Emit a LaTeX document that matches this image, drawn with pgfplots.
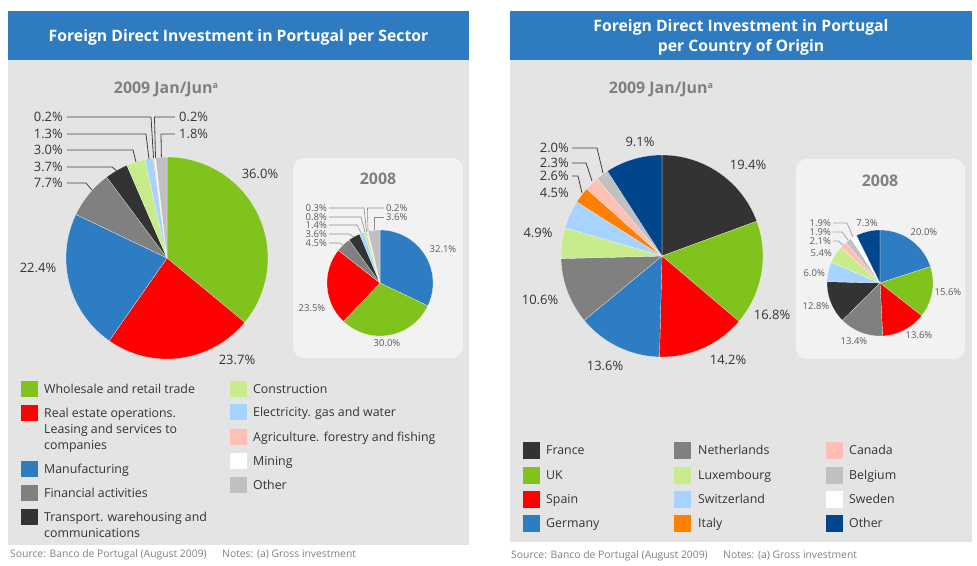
\documentclass[border=0pt]{standalone}
\usepackage{pgfplots}
\pgfplotsset{compat=1.18}
\usepackage{fontspec}
\setmainfont{Open Sans}
\definecolor{titleblue}{HTML}{2E7BC0}
\definecolor{bggray}{HTML}{E4E4E4}
\definecolor{insetgray}{HTML}{F2F2F2}
\definecolor{cGreen}{HTML}{80C31C}
\definecolor{cRed}{HTML}{FF0000}
\definecolor{cBlue}{HTML}{2E7DC2}
\definecolor{cGray}{HTML}{808080}
\definecolor{cDark}{HTML}{333333}
\definecolor{cLGreen}{HTML}{C8EC8C}
\definecolor{cLBlue}{HTML}{A6D3FF}
\definecolor{cPink}{HTML}{FFBFB5}
\definecolor{cWhite}{HTML}{FFFFFF}
\definecolor{cLGray}{HTML}{C0C0C0}
\definecolor{cOrange}{HTML}{FF8000}
\definecolor{cNavy}{HTML}{00468C}
\definecolor{txt}{HTML}{333333}
\definecolor{txtgray}{HTML}{808080}
\definecolor{smalltxt}{HTML}{595959}
\definecolor{leadline}{HTML}{404040}
\definecolor{leadgray}{HTML}{8C8C8C}

% one pie slice: value in percent, colour; angles accumulate clockwise from 12 o'clock
\newcommand\slice[2]{%
  \pgfmathsetmacro\sa{\cum*3.6}%
  \pgfmathsetmacro\sb{(\cum+#1)*3.6}%
  \edef\doslice{\noexpand\addplot[fill=#2,draw=white,line width=0.15pt,domain=\sa:\sb,samples=60,variable=\noexpand\t] ({sin(\noexpand\t)},{cos(\noexpand\t)}) -- (axis cs:0,0) -- cycle;}%
  \doslice
  \pgfmathsetmacro\nc{\cum+#1}\xdef\cum{\nc}%
}
\pgfplotsset{pie/.style={anchor=center,scale only axis,xmin=-1,xmax=1,ymin=-1,ymax=1,hide axis,clip=false}}

\begin{document}
\begin{tikzpicture}
\begin{scope}[x=1bp,y=-1bp]
\useasboundingbox (0,0) rectangle (977,566);
% panels
\fill[titleblue] (8,11) rectangle (469,60);
\fill[bggray] (8,60) rectangle (469,545);
\fill[titleblue] (510,11) rectangle (972,60);
\fill[bggray] (510,60) rectangle (972,542);
\fill[insetgray,rounded corners=11bp] (293,158) rectangle (463,358);
\fill[insetgray,rounded corners=11bp] (796,159) rectangle (965,359);
\end{scope}

% ---------------- pies ----------------
\begin{axis}[pie,at={(167bp,-258bp)},width=202bp,height=202bp]
\gdef\cum{0}
\slice{36.0}{cGreen}
\slice{23.7}{cRed}
\slice{22.4}{cBlue}
\slice{7.7}{cGray}
\slice{3.7}{cDark}
\slice{3.0}{cLGreen}
\slice{1.3}{cLBlue}
\slice{0.2}{cPink}
\slice{0.2}{cWhite}
\slice{1.8}{cLGray}
\end{axis}

\begin{axis}[pie,at={(380bp,-283bp)},width=106bp,height=106bp]
\gdef\cum{0}
\slice{32.1}{cBlue}
\slice{30.0}{cGreen}
\slice{23.5}{cRed}
\slice{4.5}{cGray}
\slice{3.6}{cDark}
\slice{1.4}{cLBlue}
\slice{0.8}{cLGreen}
\slice{0.3}{cPink}
\slice{0.2}{cWhite}
\slice{3.6}{cLGray}
\end{axis}

\begin{axis}[pie,at={(662bp,-256bp)},width=202bp,height=202bp]
\gdef\cum{0}
\slice{19.4}{cDark}
\slice{16.8}{cGreen}
\slice{14.2}{cRed}
\slice{13.6}{cBlue}
\slice{10.6}{cGray}
\slice{4.9}{cLGreen}
\slice{4.5}{cLBlue}
\slice{2.6}{cOrange}
\slice{2.3}{cPink}
\slice{2.0}{cLGray}
\slice{9.1}{cNavy}
\end{axis}

\begin{axis}[pie,at={(880bp,-283bp)},width=106bp,height=106bp]
\gdef\cum{0}
\slice{20.0}{cBlue}
\slice{15.6}{cGreen}
\slice{13.6}{cRed}
\slice{13.4}{cGray}
\slice{12.8}{cDark}
\slice{6.0}{cLBlue}
\slice{5.4}{cLGreen}
\slice{2.1}{cPink}
\slice{1.9}{cLGray}
\slice{1.9}{cWhite}
\slice{7.3}{cNavy}
\end{axis}

\begin{scope}[x=1bp,y=-1bp,
  ttl/.style={font=\fontsize{15.8}{18}\bfseries\selectfont,text=white,inner sep=0,anchor=base},
  sub/.style={font=\fontsize{16}{19}\bfseries\selectfont,text=txtgray,inner sep=0,anchor=base},
  lab/.style={font=\fontsize{13}{15}\selectfont,text=txt,inner sep=0},
  slab/.style={font=\fontsize{9.5}{11}\selectfont,text=smalltxt,inner sep=0},
  leg/.style={font=\fontsize{12.4}{14}\selectfont,text=txt,inner sep=0,anchor=base west},
  src/.style={font=\fontsize{10.4}{12}\selectfont,text=txtgray,inner sep=0,anchor=base west}]
% titles
\node[ttl] at (238.5,41.8) {Foreign Direct Investment in Portugal per Sector};
\node[ttl] at (741,31.5) {Foreign Direct Investment in Portugal};
\node[ttl] at (741,52) {per Country of Origin};
\node[sub] at (166,94) {2009 Jan/Jun{\fontsize{9}{10}\selectfont\raisebox{5bp}{a}}};
\node[sub] at (661,94) {2009 Jan/Jun{\fontsize{9}{10}\selectfont\raisebox{5bp}{a}}};
\node[sub] at (378,185) {2008};
\node[sub] at (880,187) {2008};

% ---- left 2009 labels
\node[lab] at (260,174) {36.0\%};
\node[lab] at (237,360) {23.7\%};
\node[lab] at (38,268) {22.4\%};
\node[lab,anchor=east] at (63,117) {0.2\%};
\node[lab,anchor=east] at (63,134) {1.3\%};
\node[lab,anchor=east] at (63,150) {3.0\%};
\node[lab,anchor=east] at (63,167) {3.7\%};
\node[lab,anchor=east] at (63,183) {7.7\%};
\node[lab,anchor=west] at (179,117) {0.2\%};
\node[lab,anchor=west] at (179,134) {1.8\%};
\begin{scope}[draw=leadline,line width=0.8bp]
\draw (67,183)--(86,183)--(92,190);
\draw (67,167)--(112,167)--(117,171);
\draw (67,150)--(133,150)--(136,162);
\draw (67,134)--(146,134)--(149,159);
\draw (67,117)--(151,117)--(153.5,158);
\draw (175,117)--(154.5,117)--(155.5,158);
\draw (175,134)--(161,134)--(161.4,157);
\end{scope}

% ---- left 2008 labels
\node[slab] at (443,249) {32.1\%};
\node[slab] at (387,343) {30.0\%};
\node[slab] at (312,308) {23.5\%};
\node[slab,anchor=east] at (327,208) {0.3\%};
\node[slab,anchor=east] at (327,217) {0.8\%};
\node[slab,anchor=east] at (327,225) {1.4\%};
\node[slab,anchor=east] at (327,234) {3.6\%};
\node[slab,anchor=east] at (327,243) {4.5\%};
\node[slab,anchor=west] at (386,208) {0.2\%};
\node[slab,anchor=west] at (386,217) {3.6\%};
\begin{scope}[draw=leadgray,line width=0.6bp]
\draw (329,243)--(339,243)--(343,245);
\draw (329,234)--(349,234)--(354,237);
\draw (329,225)--(357,225)--(361,233);
\draw (329,217)--(361,217)--(365,232);
\draw (329,208)--(364,208)--(366.5,231.5);
\draw (384,208)--(367.5,208)--(368,231.5);
\draw (384,217)--(374,217)--(374,230);
\end{scope}

% ---- right 2009 labels
\node[lab] at (748,165) {19.4\%};
\node[lab] at (772,315) {16.8\%};
\node[lab] at (728,360) {14.2\%};
\node[lab] at (605,366) {13.6\%};
\node[lab] at (540,300) {10.6\%};
\node[lab] at (538,233) {4.9\%};
\node[lab,anchor=east] at (569,193) {4.5\%};
\node[lab] at (640,142) {9.1\%};
\node[lab,anchor=east] at (569,176) {2.6\%};
\node[lab,anchor=east] at (569,163) {2.3\%};
\node[lab,anchor=east] at (569,148) {2.0\%};
\begin{scope}[draw=leadline,line width=0.8bp]
\draw (572,148)--(597,148)--(603,173);
\draw (572,163)--(586,163)--(592,181);
\draw (572,176)--(578,176)--(582,193);
\end{scope}

% ---- right 2008 labels
\node[slab] at (924,232) {20.0\%};
\node[slab] at (948,292) {15.6\%};
\node[slab] at (919,335) {13.6\%};
\node[slab] at (854,341) {13.4\%};
\node[slab] at (816,306) {12.8\%};
\node[slab,anchor=east] at (825,273) {6.0\%};
\node[slab,anchor=east] at (832,253) {5.4\%};
\node[slab] at (867,223) {7.3\%};
\node[slab,anchor=east] at (831,223) {1.9\%};
\node[slab,anchor=east] at (831,232) {1.9\%};
\node[slab,anchor=east] at (831,241) {2.1\%};
\begin{scope}[draw=leadgray!80,line width=0.8bp]
\draw (833,223)--(847,223)--(853,237);
\draw (833,232)--(842,232)--(848,240);
\draw (833,241)--(838,241)--(843,245);
\end{scope}

% ---- left legend
\fill[cGreen] (21,381) rectangle (38,397);
\fill[cRed] (21,405) rectangle (38,421);
\fill[cBlue] (21,461) rectangle (38,477);
\fill[cGray] (21,485) rectangle (38,501);
\fill[cDark] (21,509) rectangle (38,525);
\node[leg] at (44,393.3) {Wholesale and retail trade};
\node[leg] at (44,417.3) {Real estate operations.};
\node[leg] at (44,433) {Leasing and services to};
\node[leg] at (44,449) {companies};
\node[leg] at (44,473.3) {Manufacturing};
\node[leg] at (44,497.3) {Financial activities};
\node[leg] at (44,521.3) {Transport. warehousing and};
\node[leg] at (44,537) {communications};
\fill[cLGreen] (230,381) rectangle (247,397);
\fill[cLBlue] (230,404) rectangle (247,420);
\fill[cPink] (230,429) rectangle (247,445);
\fill[cWhite] (230,453) rectangle (247,469);
\fill[cLGray] (230,477) rectangle (247,493);
\node[leg] at (253,393.3) {Construction};
\node[leg] at (253,416.3) {Electricity. gas and water};
\node[leg] at (253,441.3) {Agriculture. forestry and fishing};
\node[leg] at (253,465.3) {Mining};
\node[leg] at (253,489.3) {Other};

% ---- right legend
\foreach \yy/\ca/\na/\cb/\nb/\cc/\nc in {450/cDark/France/cGray/Netherlands/cPink/Canada,
  475/cGreen/UK/cLGreen/Luxembourg/cLGray/Belgium,
  499/cRed/Spain/cLBlue/Switzerland/cWhite/Sweden,
  523/cBlue/Germany/cOrange/Italy/cNavy/Other}{
  \fill[\ca] (523,\yy-8.5) rectangle (540,\yy+8.5);
  \fill[\cb] (674,\yy-8.5) rectangle (691,\yy+8.5);
  \fill[\cc] (826,\yy-8.5) rectangle (843,\yy+8.5);
  \node[leg] at (546,\yy+4.3) {\na};
  \node[leg] at (698,\yy+4.3) {\nb};
  \node[leg] at (849,\yy+4.3) {\nc};
}

% ---- sources
\node[src] at (10,557) {Source: Banco de Portugal (August 2009)};
\node[src] at (222,557) {Notes: (a) Gross investment};
\node[src] at (511,558) {Source: Banco de Portugal (August 2009)};
\node[src] at (723,558) {Notes: (a) Gross investment};
\end{scope}
\end{tikzpicture}
\end{document}
